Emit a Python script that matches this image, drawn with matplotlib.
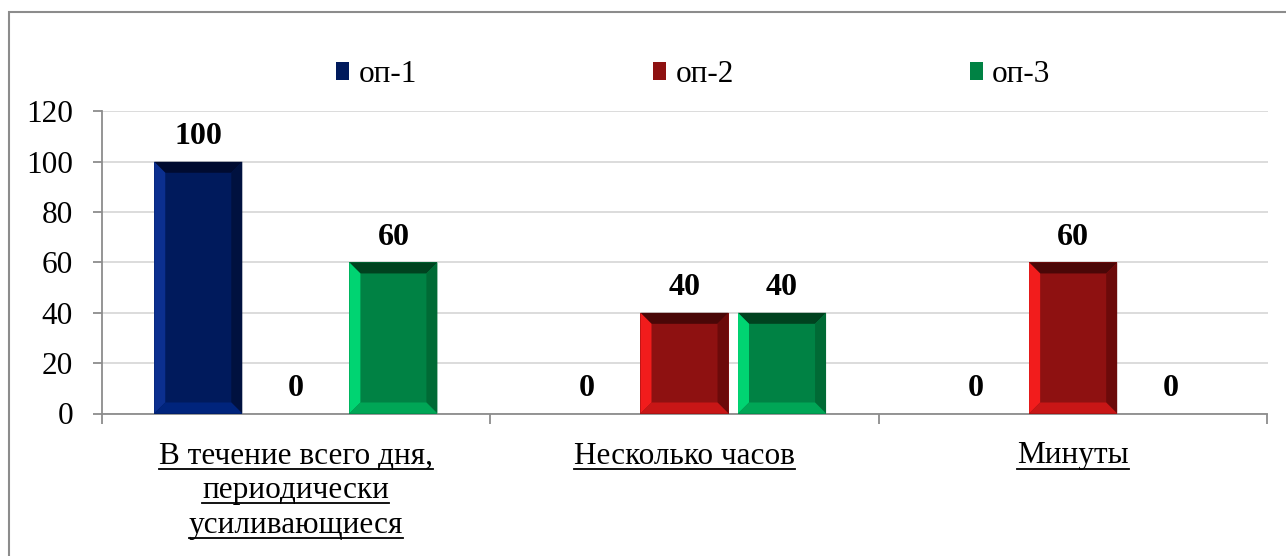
import matplotlib
matplotlib.use("Agg")
import matplotlib.pyplot as plt
from matplotlib.patches import Polygon, Rectangle, Patch
from matplotlib.lines import Line2D
from matplotlib.transforms import IdentityTransform

# ---- data ----
categories = [["В течение всего дня,", "периодически", "усиливающиеся"],
              ["Несколько часов"],
              ["Минуты"]]
series_names = ["оп-1", "оп-2", "оп-3"]
op1 = [100, 0, 0]
op2 = [0, 40, 60]
op3 = [60, 40, 0]
yticks = [0, 20, 40, 60, 80, 100, 120]

series = [op1, op2, op3]
# (main, top, left, right, bottom)
palettes = [
    ("#001a5c", "#000b30", "#0b2f8f", "#00113f", "#00247c"),
    ("#8e1111", "#4a0707", "#f21c1c", "#6c0a0a", "#c81616"),
    ("#008244", "#00421f", "#00d472", "#006a35", "#00a656"),
]

FS = 22.5
plt.rcParams['font.family'] = ['Liberation Serif', 'DejaVu Serif']
W, H = 1286, 556
AX_L, AX_R, AX_T, AX_B = 101.5, 1267.5, 111.4, 413.5
fig = plt.figure(figsize=(W / 100, H / 100), dpi=100)
ax = fig.add_axes([AX_L / W, 1 - AX_B / H, (AX_R - AX_L) / W, (AX_B - AX_T) / H])

n = len(categories)
ax.set_xlim(-0.5, n - 0.5)
ax.set_ylim(0, 120)

bw = 0.2265
pitch = 0.251
bars_all = []
for i, vals in enumerate(series):
    xs = [c + (i - 1) * pitch for c in range(n)]
    bars = ax.bar(xs, vals, width=bw, color=palettes[i][0], zorder=3, linewidth=0)
    bars_all.append(bars)
    for x, v in zip(xs, vals):
        ax.annotate(str(v), xy=(x, v), xytext=(0, 17.5), textcoords='offset pixels',
                    ha='center', va='baseline', fontsize=23, fontweight='bold', zorder=5)

# bevels
ppx = n / (AX_R - AX_L)
ppy = 120 / (AX_B - AX_T)
bev = 11
dx, dy = bev * ppx, bev * ppy
for i, bars in enumerate(bars_all):
    main, top, left, right, bottom = palettes[i]
    for b in bars:
        h = b.get_height()
        if h <= 0:
            continue
        x0 = b.get_x(); x1 = x0 + b.get_width(); y0 = 0; y1 = h
        polys = [
            ([(x0, y1), (x1, y1), (x1 - dx, y1 - dy), (x0 + dx, y1 - dy)], top),
            ([(x0, y0), (x0, y1), (x0 + dx, y1 - dy), (x0 + dx, y0 + dy)], left),
            ([(x1, y0), (x1, y1), (x1 - dx, y1 - dy), (x1 - dx, y0 + dy)], right),
            ([(x0, y0), (x1, y0), (x1 - dx, y0 + dy), (x0 + dx, y0 + dy)], bottom),
        ]
        for pts, col in polys:
            ax.add_patch(Polygon(pts, closed=True, facecolor=col, edgecolor='none', zorder=4))

# axes styling
ax.set_yticks(yticks)
ax.set_yticklabels([str(t) for t in yticks], fontsize=FS)
ax.yaxis.grid(True, color='#d9d9d9', linewidth=1.3, zorder=0)
ax.set_axisbelow(True)
for s in ['top', 'right']:
    ax.spines[s].set_visible(False)
for s in ['left', 'bottom']:
    ax.spines[s].set_color('#8c8c8c')
    ax.spines[s].set_linewidth(1.3)
ax.tick_params(axis='y', length=6.5, width=1.3, color='#8c8c8c', pad=14)
ax.set_xticks([c - 0.5 for c in range(n + 1)])
ax.set_xticklabels([])
ax.tick_params(axis='x', length=7.5, width=1.3, color='#8c8c8c')

# category labels (underlined)
cat_texts = []
for c, lines in enumerate(categories):
    for k, line in enumerate(lines):
        off = -50 - 34.5 * k
        t = ax.annotate(line, xy=(c, 0), xycoords=('data', 'axes fraction'),
                        xytext=(0, off), textcoords='offset pixels',
                        ha='center', va='baseline', fontsize=FS, annotation_clip=False)
        cat_texts.append((t, off))

# legend
handles = [Patch(facecolor=palettes[i][0], edgecolor='none') for i in range(3)]
leg = fig.legend(handles, series_names, loc='upper left',
                 bbox_to_anchor=(336 / W, 1 - 60 / H), ncol=3, frameon=False,
                 fontsize=FS, handlelength=0.42, handleheight=0.55, handletextpad=0.3,
                 columnspacing=7.55, borderpad=0, borderaxespad=0)

# outer border
fig.add_artist(Rectangle((9 / W, -0.05), 1.0, (1 - 12 / H) + 0.05, transform=fig.transFigure,
                         facecolor='none', edgecolor='#8c8c8c', linewidth=1.5))

fig.canvas.draw()
r = fig.canvas.get_renderer()
axb = ax.transAxes.transform((0, 0))[1]
for t, off in cat_texts:
    bb = t.get_window_extent(r)
    yb = axb + off - 5
    fig.add_artist(Line2D([bb.x0, bb.x1], [yb, yb], transform=IdentityTransform(),
                          color='black', linewidth=1.3))

fig.savefig('out.png', dpi=100)
